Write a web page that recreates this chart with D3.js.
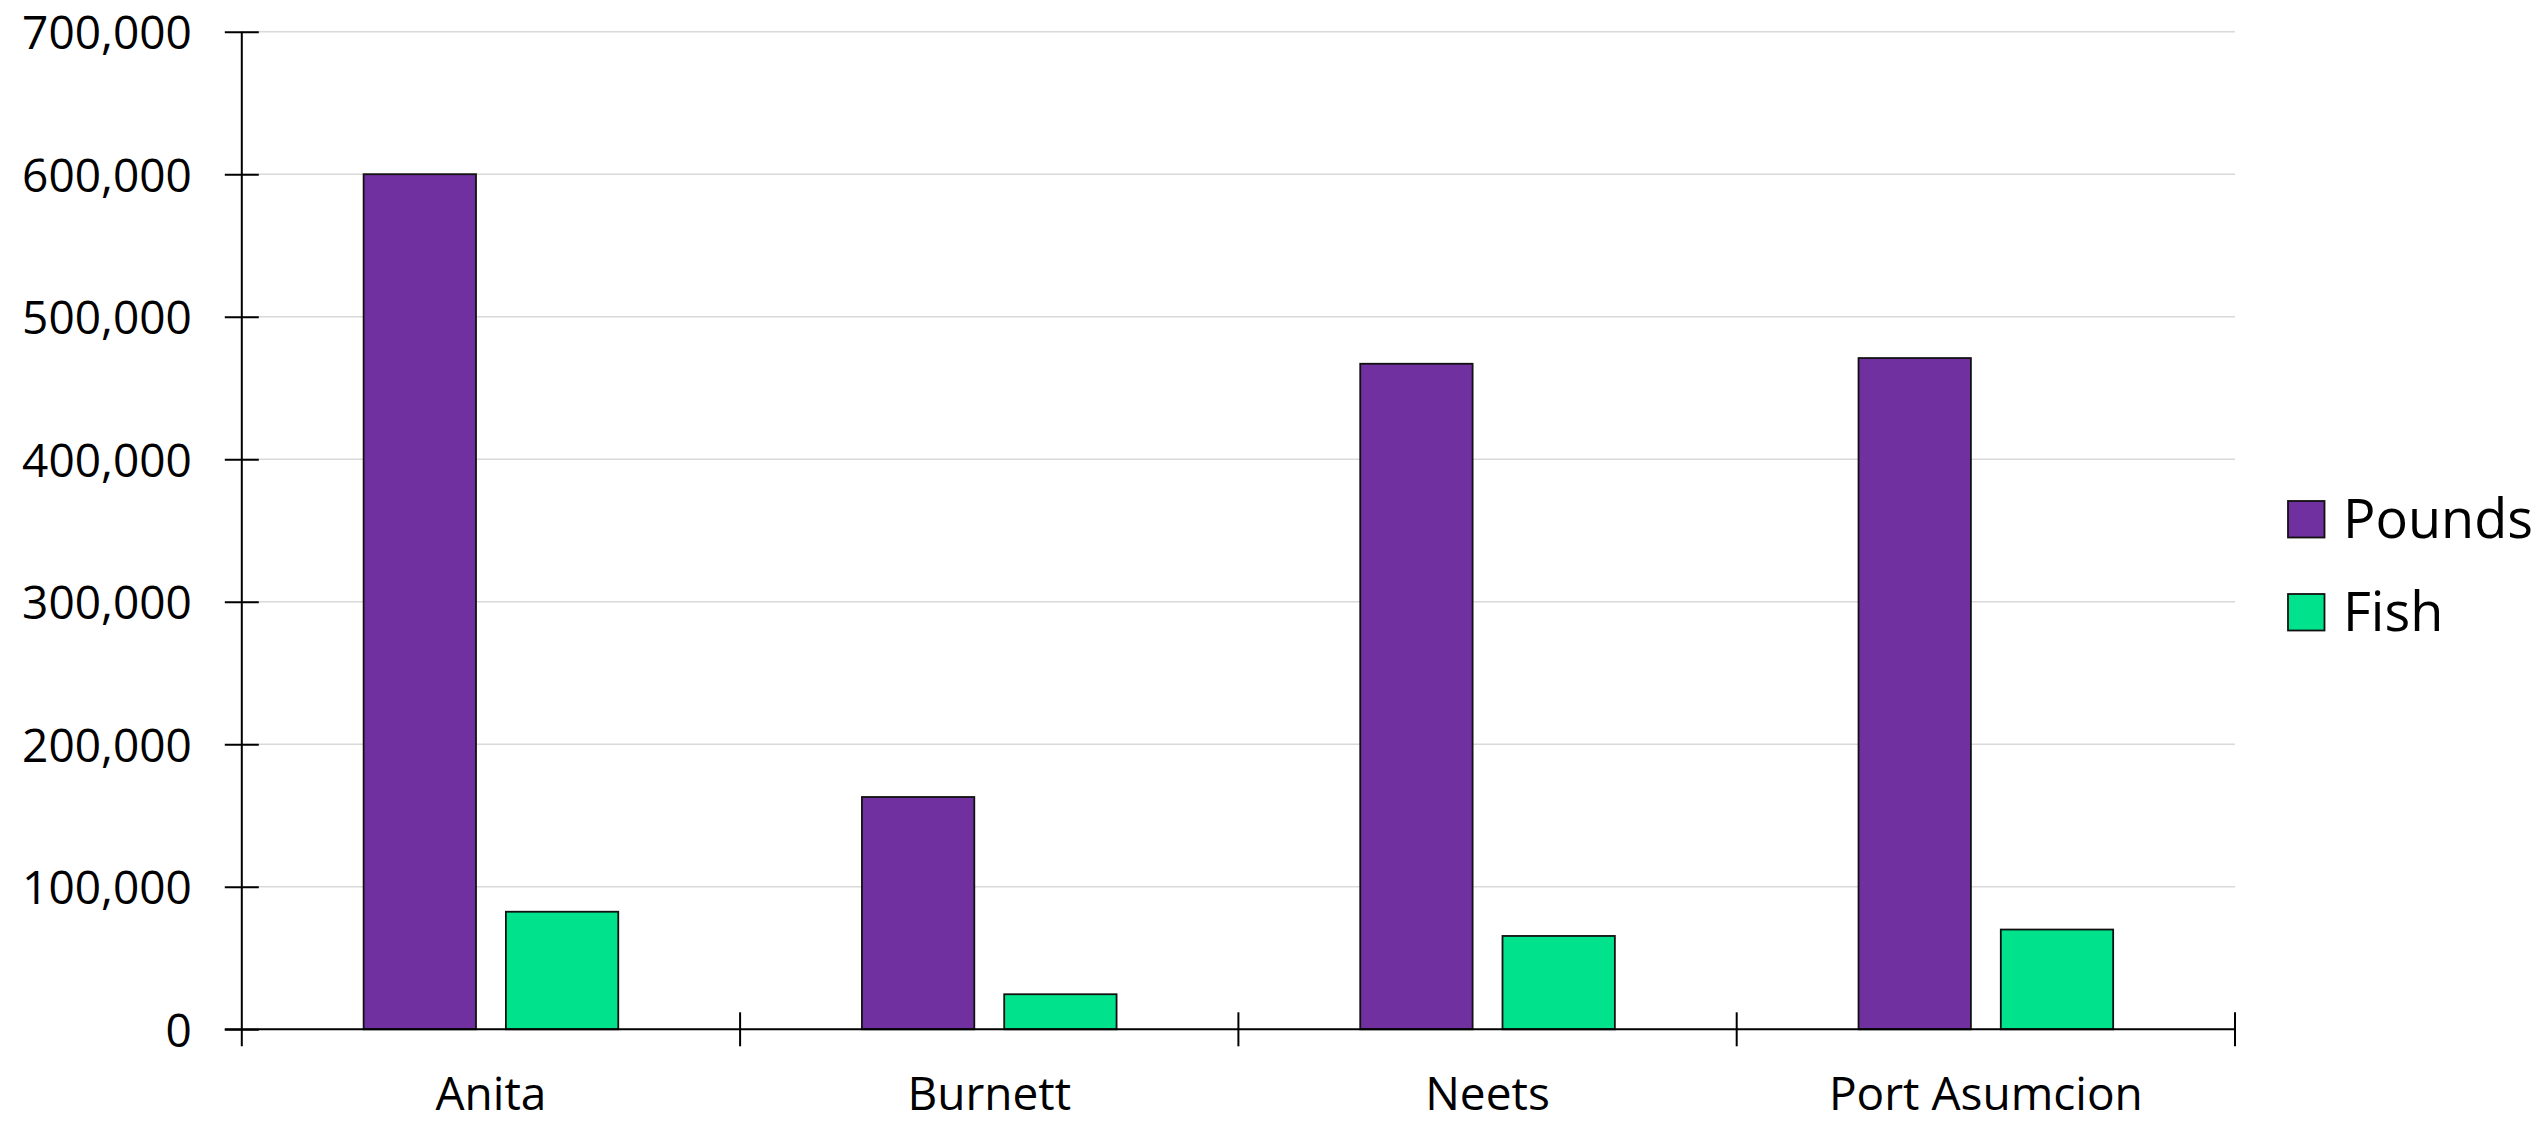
<!DOCTYPE html>
<html>
<head>
<meta charset="utf-8">
<script src="https://cdn.jsdelivr.net/npm/d3@7"></script>
<style>
  html, body { margin: 0; padding: 0; background: #fff; }
  svg { display: block; }
  text { font-family: "Open Sans", sans-serif; fill: #000; }
</style>
</head>
<body>
<svg id="chart" width="2547" height="1124"></svg>
<script>
const categories = ["Anita", "Burnett", "Neets", "Port Asumcion"];
const seriesNames = ["Pounds", "Fish"];
const pounds = [600000, 163000, 467000, 471000];
const fish = [82500, 24600, 65500, 70000];
const yTicks = [0, 100000, 200000, 300000, 400000, 500000, 600000, 700000];
const colors = ["#7030A0", "#00E28C"];

const x0 = 241.8, x1 = 2235, yTop = 31.7, yBot = 1029.3;

const svg = d3.select("#chart");

const x = d3.scaleBand().domain(categories).range([x0, x1]).paddingInner(0).paddingOuter(0);
const bandW = x.bandwidth();
const barW = bandW * 0.2255;
const gap = bandW * 0.06;
const outer = (bandW - 2 * barW - gap) / 2;
const xs = d3.scaleBand().domain(seriesNames).range([outer, bandW - outer])
  .paddingInner(gap / (barW + gap)).paddingOuter(0);

const y = d3.scaleLinear().domain([0, 700000]).range([yBot, yTop]);

// gridlines
svg.append("g").selectAll("line").data(yTicks.filter(d => d > 0)).join("line")
  .attr("x1", x0).attr("x2", x1)
  .attr("y1", d => y(d)).attr("y2", d => y(d))
  .attr("stroke", "#d9d9d9").attr("stroke-width", 1.5);

// bars
const data = categories.map((c, i) => ({ cat: c, vals: [pounds[i], fish[i]] }));
const groups = svg.append("g").selectAll("g").data(data).join("g")
  .attr("transform", d => `translate(${x(d.cat)},0)`);
groups.selectAll("rect").data(d => d.vals.map((v, j) => ({ s: seriesNames[j], v, j }))).join("rect")
  .attr("x", d => xs(d.s))
  .attr("width", xs.bandwidth())
  .attr("y", d => y(d.v))
  .attr("height", d => y(0) - y(d.v))
  .attr("fill", d => colors[d.j])
  .attr("stroke", "#111").attr("stroke-width", 1.8);

// y axis
const yAxis = d3.axisLeft(y).tickValues(yTicks).tickSize(0).tickFormat(d3.format(","));
const yg = svg.append("g").attr("transform", `translate(${x0},0)`).call(yAxis);
yg.select(".domain").remove();
yg.selectAll("text").attr("x", -50).attr("dy", "0.37em")
  .style("font-size", "46px").style("font-family", "'Open Sans', sans-serif").attr("fill", "#000");
yg.selectAll(".tick").append("line").attr("x1", -17).attr("x2", 17).attr("stroke", "#000").attr("stroke-width", 2);
svg.append("line").attr("x1", x0).attr("x2", x0).attr("y1", yTop).attr("y2", yBot + 17)
  .attr("stroke", "#000").attr("stroke-width", 2);

// x axis
const xg = svg.append("g").attr("transform", `translate(0,${yBot})`).call(d3.axisBottom(x).tickSize(0));
xg.select(".domain").remove();
xg.selectAll("text").attr("y", 81).attr("dy", 0)
  .style("font-size", "46px").style("font-family", "'Open Sans', sans-serif").attr("fill", "#000");
svg.append("line").attr("x1", x0 - 17).attr("x2", x1).attr("y1", yBot).attr("y2", yBot)
  .attr("stroke", "#000").attr("stroke-width", 2);
const boundaries = categories.map(c => x(c)).concat([x1]);
svg.append("g").selectAll("line").data(boundaries.slice(1)).join("line")
  .attr("x1", d => d).attr("x2", d => d)
  .attr("y1", yBot - 17).attr("y2", yBot + 17)
  .attr("stroke", "#000").attr("stroke-width", 2);

// legend
const legend = svg.append("g").selectAll("g").data(seriesNames).join("g")
  .attr("transform", (d, i) => `translate(2288,${501 + i * 93})`);
legend.append("rect").attr("width", 36.5).attr("height", 36.5)
  .attr("fill", (d, i) => colors[i]).attr("stroke", "#111").attr("stroke-width", 1.8);
legend.append("text").attr("x", 55).attr("y", 36.5)
  .style("font-size", "54px").text(d => d);
</script>
</body>
</html>
